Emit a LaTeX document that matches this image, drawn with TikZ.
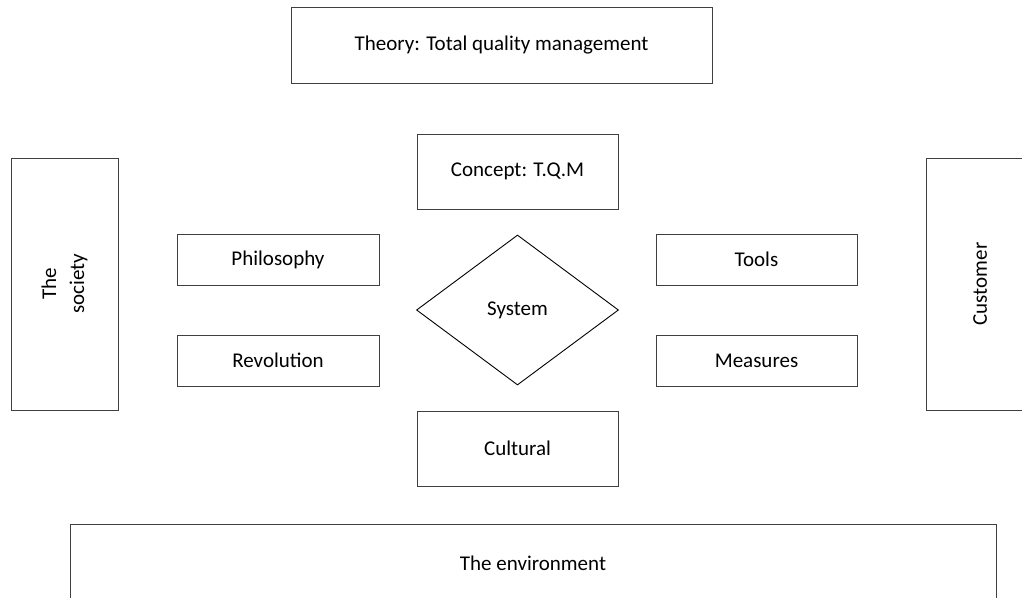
\documentclass[tikz,border=0pt]{standalone}
\usepackage{fontspec}
\setmainfont{Carlito}
\usetikzlibrary{shapes.geometric}
\begin{document}
\begin{tikzpicture}[x=1pt,y=-1pt,
  every node/.style={font=\fontsize{21}{28}\selectfont, text=black},
  box/.style={draw=black!75, line width=1pt, rectangle, inner sep=0pt},
  dia/.style={draw=black, line width=0.9pt, diamond, inner sep=0pt}]
\useasboundingbox (0,0) rectangle (1022,597);
\clip (0,0) rectangle (1022,597);
\node[box, minimum width=421pt, minimum height=76pt] (theory) at (501.5,45) {Theory: Total quality management};
\node[box, minimum width=201pt, minimum height=75pt] (concept) at (517.5,171.5) {Concept: T.Q.M};
\node[box, rotate=90, align=center, minimum width=252pt, minimum height=107pt] (society) at (64.5,284) {The\\society};
\node[box, rotate=90, minimum width=252pt, minimum height=108pt] (customer) at (980,284) {Customer};
\node[box, minimum width=202pt, minimum height=51pt] (philosophy) at (278,259.5) {Philosophy};
\node[box, minimum width=202pt, minimum height=51pt] (revolution) at (278,360.5) {Revolution};
\node[box, minimum width=201pt, minimum height=51pt] (tools) at (756.5,259.5) {Tools};
\node[box, minimum width=201pt, minimum height=51pt] (measures) at (756.5,360.5) {Measures};
\node[dia, minimum width=202pt, minimum height=150pt] (system) at (517.5,310) {System};
\node[box, minimum width=201pt, minimum height=75pt] (cultural) at (517.5,448.5) {Cultural};
\node[box, minimum width=926pt, minimum height=78pt] (environment) at (533,563) {The environment};
\end{tikzpicture}
\end{document}
